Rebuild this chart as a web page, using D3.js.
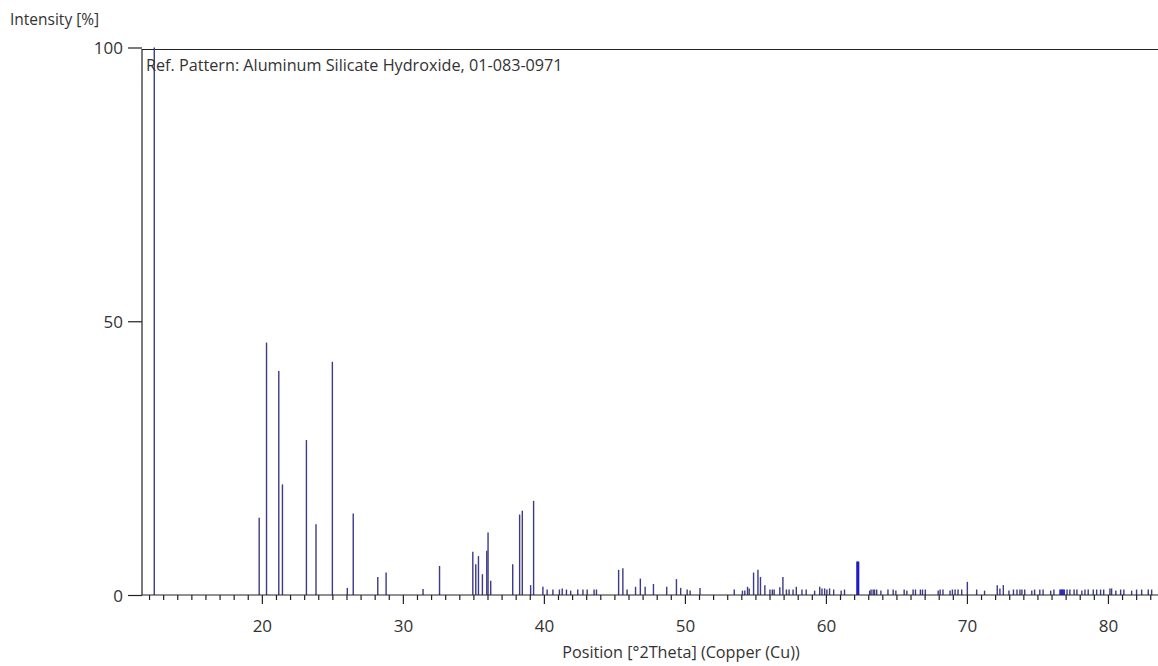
<!DOCTYPE html>
<html><head><meta charset="utf-8">
<script src="https://cdn.jsdelivr.net/npm/d3@7"></script>
<style>
html,body{margin:0;padding:0;background:#fff;}
svg text{font-family:"Open Sans","Noto Sans",sans-serif;fill:#333;}
</style></head>
<body>
<svg id="c" width="1158" height="666"></svg>
<script>
// Peak positions [°2Theta] and relative intensities [%]
const positions = [12.37,19.81,20.33,21.2,21.46,23.16,23.84,25.0,26.06,26.48,28.22,28.81,31.43,32.6,
34.96,35.17,35.36,35.64,35.95,36.04,36.23,37.79,38.28,38.47,39.06,39.27,39.93,40.23,40.64,41.1,41.3,41.6,41.9,
42.4,42.77,43.07,43.56,43.73,45.3,45.6,45.9,46.5,46.84,47.18,47.77,48.71,49.4,49.7,50.16,50.37,51.07,
53.5,54.08,54.25,54.44,54.56,54.87,55.18,55.36,55.67,56.03,56.2,56.33,56.73,56.95,57.2,57.39,57.67,57.9,
58.3,58.6,59.2,59.56,59.72,59.91,60.07,60.26,60.55,61.08,61.32,62.2,62.26,62.32,
63.1,63.2,63.35,63.45,63.6,63.9,64.4,64.77,64.96,65.55,65.74,66.18,66.35,66.7,66.85,67.05,
67.96,68.1,68.3,68.8,68.97,69.16,69.37,69.63,70.03,70.69,71.25,72.15,72.34,72.58,72.98,
73.3,73.55,73.76,73.9,74.1,74.6,74.8,75.17,75.4,75.94,76.17,76.6,76.68,76.75,76.82,76.9,77.1,77.3,77.6,77.8,
78.15,78.37,78.6,78.96,79.2,79.48,79.7,80.14,80.26,80.56,80.9,81.13,81.68,82.03,82.39,82.86,83.1];
const intensities = [100,14.1,46.1,40.9,20.2,28.3,12.9,42.6,1.3,14.9,3.3,4.1,1.1,5.3,
7.9,5.6,7.1,3.8,8.1,11.4,2.6,5.6,14.7,15.4,1.8,17.2,1.5,1.0,1.0,1.0,1.2,1.0,0.8,
1.0,1.0,1.0,1.0,1.0,4.6,4.9,1.0,1.5,3.0,1.5,2.0,1.5,2.9,1.3,1.0,0.8,1.3,
1.0,0.8,0.8,1.5,1.2,4.1,4.6,3.3,1.8,1.0,1.0,1.0,1.4,3.3,1.0,1.0,1.0,1.5,
1.0,1.0,0.8,1.5,1.2,1.2,1.0,1.2,1.0,0.8,1.0,6.1,6.1,6.1,
0.8,1.0,1.0,1.0,1.0,0.8,1.0,1.0,0.8,1.0,0.8,1.0,1.0,1.0,1.0,1.0,
0.8,1.0,1.0,0.8,1.0,1.0,1.0,1.0,2.4,1.0,0.8,1.8,1.2,1.8,0.8,
1.0,1.0,1.0,1.0,1.0,0.8,1.0,1.0,1.0,0.8,1.0,1.0,1.0,1.0,1.0,1.0,1.0,1.0,1.0,1.0,
0.8,1.0,1.0,1.0,1.0,1.0,1.0,1.2,1.2,0.8,1.0,1.0,0.8,1.0,1.0,1.0,1.0];
const xTicks = [20,30,40,50,60,70,80];
const yTicks = [0,50,100];
const refLabel = "Ref. Pattern: Aluminum Silicate Hydroxide, 01-083-0971";

const svg = d3.select("#c");
const x = d3.scaleLinear().domain([11.5, 83.55]).range([142, 1158]);
const y = d3.scaleLinear().domain([0, 100]).range([595, 47.5]);
const FONT = "'Open Sans','Noto Sans',sans-serif";

// frame
svg.append("path").attr("d","M142,595V49.5H1158").attr("fill","none").attr("stroke","#222").attr("stroke-width",1.2);

// bars
const blueSet = new Set([62.2,62.26,62.32,76.6,76.68,76.75,76.82,76.9]);
svg.append("g").selectAll("line").data(positions.map((p,i)=>({p,v:intensities[i]})))
  .join("line")
  .attr("x1",d=>x(d.p)).attr("x2",d=>x(d.p))
  .attr("y1",y(0)).attr("y2",d=>y(d.v))
  .attr("stroke",d=>blueSet.has(d.p)?"#1a1ac0":"#3a3a88")
  .attr("stroke-width",1.4);

// x axis
const xAxis = d3.axisBottom(x).tickValues(xTicks).tickSize(9).tickFormat(d3.format("d"));
const gx = svg.append("g").attr("transform","translate(0,595)").call(xAxis);
gx.select(".domain").remove();
gx.selectAll(".tick line").attr("stroke","#222").attr("stroke-width",1.2);
gx.selectAll(".tick text").attr("font-size",17).attr("y",37).attr("dy","0").style("font-family",FONT).attr("fill","#333");
const minor = d3.range(12, 84).filter(v=>!xTicks.includes(v));
const xMinor = d3.axisBottom(x).tickValues(minor).tickSize(5).tickFormat("");
const gm = svg.append("g").attr("transform","translate(0,595)").call(xMinor);
gm.select(".domain").remove();
gm.selectAll(".tick line").attr("stroke","#222").attr("stroke-width",1.2);
svg.append("line").attr("x1",142).attr("x2",1158).attr("y1",595).attr("y2",595).attr("stroke","#222").attr("stroke-width",1.2);

// y axis
const yAxis = d3.axisLeft(y).tickValues(yTicks).tickSize(14).tickPadding(5).tickFormat(d3.format("d"));
const gy = svg.append("g").attr("transform","translate(142,0)").call(yAxis);
gy.select(".domain").remove();
gy.selectAll(".tick line").attr("stroke","#222").attr("stroke-width",1.2);
gy.selectAll(".tick text").attr("font-size",17).attr("dy","0.36em").style("font-family",FONT).attr("fill","#333");

// texts
svg.append("text").attr("x",10).attr("y",25).attr("font-size",15.5).text("Intensity [%]");
svg.append("text").attr("x",146).attr("y",71).attr("font-size",16.2).text(refLabel);
svg.append("text").attr("x",681).attr("y",658).attr("text-anchor","middle").attr("font-size",16.2).text("Position [°2Theta] (Copper (Cu))");
</script>
</body></html>
